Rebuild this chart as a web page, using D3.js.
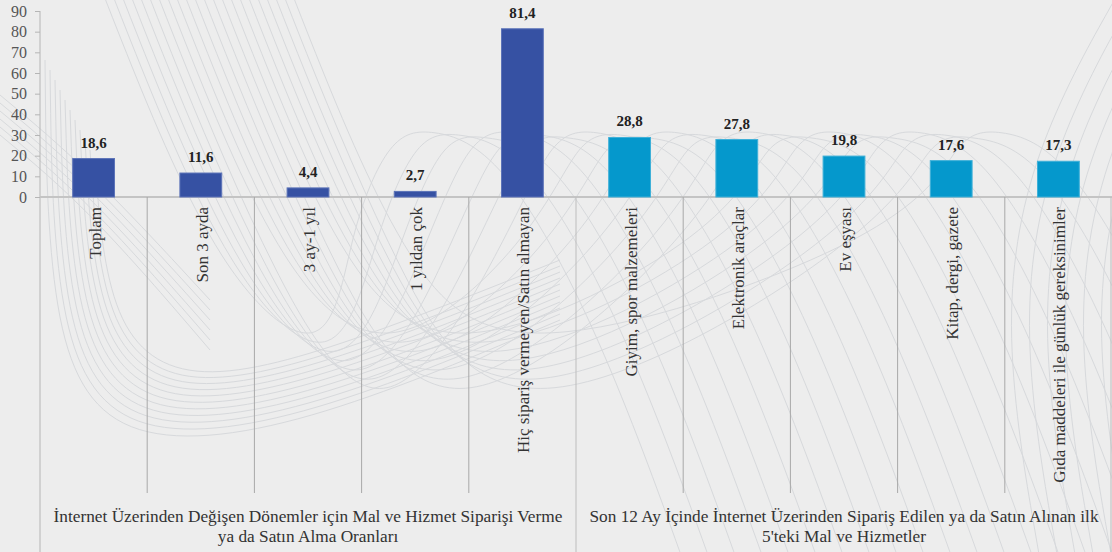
<!DOCTYPE html>
<html><head><meta charset="utf-8">
<script src="https://cdn.jsdelivr.net/npm/d3@7"></script>
<style>
html,body{margin:0;padding:0;background:#ededed;}
svg{display:block;}
text{font-family:"Liberation Serif","Times New Roman","DejaVu Serif",serif;}
</style></head>
<body>
<svg id="chart" width="1112" height="552"></svg>
<script>
const categories = ["Toplam","Son 3 ayda","3 ay-1 yıl","1 yıldan çok","Hiç sipariş vermeyen/Satın almayan",
  "Giyim, spor malzemeleri","Elektronik araçlar","Ev eşyası","Kitap, dergi, gazete","Gıda maddeleri ile günlük gereksinimler"];
const values = [18.6,11.6,4.4,2.7,81.4,28.8,27.8,19.8,17.6,17.3];
const valueLabels = ["18,6","11,6","4,4","2,7","81,4","28,8","27,8","19,8","17,6","17,3"];
const groupOf = [0,0,0,0,0,1,1,1,1,1];
const groupLines = [
  ["İnternet Üzerinden Değişen Dönemler için Mal ve Hizmet Siparişi Verme","ya da Satın Alma Oranları"],
  ["Son 12 Ay İçinde İnternet Üzerinden Sipariş Edilen ya da Satın Alınan ilk","5'teki Mal ve Hizmetler"]
];
const groupColors = ["#3651a3","#0598cc"];
const yTicks = [0,10,20,30,40,50,60,70,80,90];

(function(){
const svg = d3.select("#chart");
const W = 1112, H = 552;
const mLeft = 40, mRight = 1112, base = 197, mTop = 11;
const serif = "'Liberation Serif','Times New Roman','DejaVu Serif',serif";

// decorative background watermark curves
svg.append("defs").append("clipPath").attr("id","clipAll").append("rect").attr("width",W).attr("height",H);
const deco = svg.append("g").attr("clip-path","url(#clipAll)").attr("fill","none").attr("stroke","#d7d9dc").attr("stroke-width",1);
const wave = d3.line().curve(d3.curveBasis);
for (let k = 0; k < 22; k++) {
  const dx = k*9;
  const depth = (k%7)*14;
  const px = 430 + k*27;
  deco.append("path").attr("d", wave([[60+dx,-120],[120+dx,40],[220+dx,280],[330+dx,370+depth],[px-80,230],[px-40,135],[px,128+(k%3)*4],[px+70,150],[px+170,330],[px+260,580]]));
}
for (let k = 0; k < 11; k++) {
  deco.append("path").attr("d", wave([[45+k*5,60+k*10],[48+k*6,330],[110+k*8,450-k*6],[300+k*6,430-k*9],[560,320-k*6]]));
}
for (let k = 0; k < 6; k++) {
  deco.append("path").attr("d", wave([[0,95+k*8],[90,170+k*8],[210,300+k*10]]));
}
for (let k = 0; k < 6; k++) {
  const x0 = 1010 + k*18;
  deco.append("path").attr("d", wave([[x0+110,-10],[x0+20,150],[x0-10,330],[x0+30,560]]));
}

const x = d3.scaleBand().domain(categories).range([mLeft,mRight]).paddingInner(0).paddingOuter(0);
const y = d3.scaleLinear().domain([0,90]).range([base,mTop]);
const bw = x.bandwidth();
const barW = bw*0.39;

// y axis
const yAxis = d3.axisLeft(y).tickValues(yTicks).tickSize(5).tickPadding(8).tickFormat(d3.format("d"));
const ga = svg.append("g").attr("transform",`translate(${mLeft},0)`).call(yAxis);
ga.attr("font-family",serif);
ga.select(".domain").attr("stroke","#b5b5b5").attr("d",`M0,${mTop}V${H}`);
ga.selectAll(".tick line").attr("stroke","#b5b5b5");
ga.selectAll(".tick text").attr("font-family",serif).attr("font-size",16).attr("fill","#555");

// baseline
svg.append("line").attr("x1",mLeft).attr("x2",mRight).attr("y1",base).attr("y2",base).attr("stroke","#c4c4c4").attr("stroke-width",2);

// separators
categories.forEach((c,i)=>{
  if (i===0) return;
  const xx = x(c);
  const isGroup = groupOf[i] !== groupOf[i-1];
  svg.append("line").attr("x1",xx).attr("x2",xx).attr("y1",base).attr("y2",isGroup?H:493)
    .attr("stroke",isGroup?"#bdbdbd":"#a8a8a8").attr("stroke-width",1);
});
svg.append("line").attr("x1",mRight-1).attr("x2",mRight-1).attr("y1",base).attr("y2",H).attr("stroke","#bdbdbd");

// bars
svg.append("g").selectAll("rect").data(values).join("rect")
  .attr("x",(d,i)=>x(categories[i])+(bw-barW)/2)
  .attr("width",barW)
  .attr("y",d=>y(d))
  .attr("height",d=>base-y(d))
  .attr("fill",(d,i)=>groupColors[groupOf[i]])
  .attr("stroke",(d,i)=>groupOf[i]===0?"#5c73b8":"#3fb0d8").attr("stroke-width",1);

// value labels
svg.append("g").selectAll("text").data(values).join("text")
  .attr("x",(d,i)=>x(categories[i])+bw/2)
  .attr("y",d=>y(d)-11)
  .attr("text-anchor","middle")
  .attr("font-family",serif).attr("font-weight","bold").attr("font-size",15).attr("fill","#222")
  .text((d,i)=>valueLabels[i]);

// category labels (rotated)
svg.append("g").selectAll("text").data(categories).join("text")
  .attr("transform",d=>`translate(${x(d)+bw/2+1},207) rotate(-90)`)
  .attr("text-anchor","end").attr("dy","0.35em")
  .attr("font-family",serif).attr("font-size",17).attr("fill","#333")
  .text(d=>d);

// group labels
groupLines.forEach((lines,g)=>{
  const idx = groupOf.map((v,i)=>v===g?i:-1).filter(i=>i>=0);
  const x0 = x(categories[idx[0]]), x1 = x(categories[idx[idx.length-1]])+bw;
  const t = svg.append("text").attr("x",(x0+x1)/2).attr("y",522).attr("text-anchor","middle")
    .attr("font-family",serif).attr("font-size",17.3).attr("fill","#333");
  lines.forEach((l,k)=>t.append("tspan").attr("x",(x0+x1)/2).attr("dy",k?20:0).text(l));
});
})();
</script>
</body></html>
